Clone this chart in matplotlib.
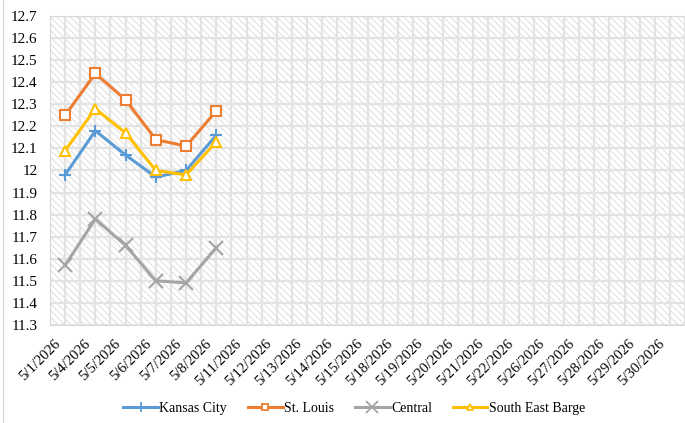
import numpy as np
import matplotlib
matplotlib.use("Agg")
import matplotlib.pyplot as plt
import matplotlib.transforms as mtransforms
from matplotlib.patches import Rectangle
from matplotlib.lines import Line2D

dates = ["5/1/2026", "5/4/2026", "5/5/2026", "5/6/2026", "5/7/2026", "5/8/2026",
         "5/11/2026", "5/12/2026", "5/13/2026", "5/14/2026", "5/15/2026",
         "5/18/2026", "5/19/2026", "5/20/2026", "5/21/2026", "5/22/2026",
         "5/26/2026", "5/27/2026", "5/28/2026", "5/29/2026", "5/30/2026"]

kansas_city = [11.98, 12.18, 12.07, 11.97, 12.00, 12.16]
st_louis = [12.25, 12.44, 12.32, 12.14, 12.11, 12.27]
central = [11.57, 11.78, 11.66, 11.50, 11.49, 11.65]
south_east_barge = [12.09, 12.28, 12.17, 12.00, 11.98, 12.13]

plt.rcParams['font.family'] = ['Liberation Serif', 'DejaVu Serif']
plt.rcParams['hatch.linewidth'] = 0.7
plt.rcParams['hatch.color'] = '#dedede'

fig = plt.figure(figsize=(6.85, 4.23), dpi=100)
ax = fig.add_axes([0.073, 0.232, 0.927, 0.730])

x = np.arange(len(dates))
ax.set_xlim(-0.5, len(dates) - 0.5)
ax.set_ylim(11.3, 12.7)

# hatched plot-area background
bg = Rectangle((0, 0), 1, 1, transform=ax.transAxes, facecolor='white',
               edgecolor='#dedede', hatch='\\\\\\\\\\', lw=0, zorder=0)
ax.add_patch(bg)

grid_c = '#e3e3e3'
yvals = np.round(np.arange(11.3, 12.71, 0.1), 1)
for v in yvals:
    ax.axhline(v, color=grid_c, lw=1.6, zorder=1)
for v in np.arange(-0.5, len(dates), 0.5):
    ax.axvline(v, color=grid_c, lw=1.6, zorder=1)

series = [
    ("Kansas City", kansas_city, '#5b9bd5', '+', 'none', 9),
    ("St. Louis", st_louis, '#ed7d31', 's', 'white', 7),
    ("Central", central, '#a5a5a5', 'x', 'none', 10),
    ("South East Barge", south_east_barge, '#ffc000', '^', 'white', 7),
]
handles = []
for name, vals, c, m, fc, ms in series:
    xs = x[:len(vals)]
    ax.plot(xs, vals, color=c, lw=2.2, marker=m, markersize=ms,
            markerfacecolor=fc, markeredgecolor=c, markeredgewidth=1.5, zorder=3)
    handles.append(Line2D([], [], color=c, lw=2.2, marker=m, markersize=ms - 2,
                          markerfacecolor=fc, markeredgecolor=c, markeredgewidth=1.3))

for s in ax.spines.values():
    s.set_color('#d9d9d9')
ax.tick_params(length=0, colors='#000000')
ax.set_yticks(yvals)
ax.set_yticklabels([f"{v:g}" for v in yvals], fontsize=11)
ax.tick_params(axis='y', pad=9)
ax.set_xticks(x)
ax.set_xticklabels(dates, rotation=45, ha='right', va='center',
                   rotation_mode='anchor', fontsize=10.5)
ax.tick_params(axis='x', pad=12)
shift = mtransforms.ScaledTranslation(-7 / 100, 0, fig.dpi_scale_trans)
for lbl in ax.get_xticklabels():
    lbl.set_transform(lbl.get_transform() + shift)

fig.legend(handles, [s[0] for s in series], loc='center', bbox_to_anchor=(0.517, 0.035),
           ncol=4, frameon=False, fontsize=10, handlelength=2.5, columnspacing=1.5,
           handletextpad=0.1)

fig.add_artist(Line2D([0.004, 0.004], [0, 1], transform=fig.transFigure,
                      color='#d9d9d9', lw=1))

fig.savefig("out.png", dpi=100)
